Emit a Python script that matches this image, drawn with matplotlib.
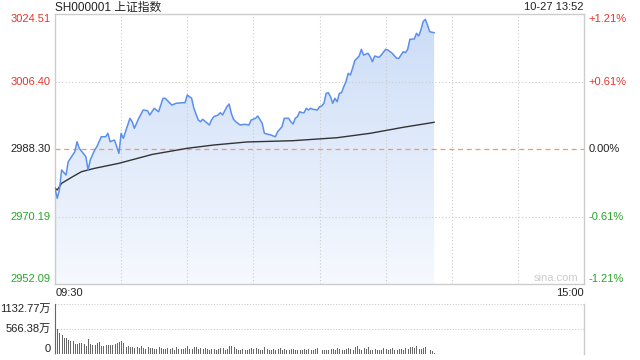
import numpy as np
import matplotlib
matplotlib.use('Agg')
import matplotlib.pyplot as plt
from matplotlib.colors import LinearSegmentedColormap
from matplotlib.transforms import blended_transform_factory

plt.rcParams['font.family'] = ['Liberation Sans', 'Noto Sans CJK SC', 'DejaVu Sans']

# minutes since 09:30 (trading minutes) and index level
price_t = [0, 1, 2, 3, 5, 6, 8, 9, 10, 11, 14, 15, 16, 18, 19, 21, 23, 24, 25, 27,
           28, 29, 30, 31, 32, 34, 35, 36, 38, 40, 42, 43, 45, 47, 49, 50, 53, 55, 58, 59,
           60, 62, 63, 65, 66, 67, 70, 71, 72, 74, 75, 76, 78, 79, 80, 81, 82, 84, 86, 88,
           89, 91, 92, 94, 95, 98, 99, 100, 101, 103, 104, 106, 107, 108, 109, 110, 111, 112, 113, 114,
           115, 116, 117, 119, 120, 121, 122, 123, 124, 125, 126, 127, 128, 129, 130, 131, 132, 133, 134, 135,
           136, 138, 139, 140, 142, 143, 144, 145, 147, 148, 150, 151, 153, 155, 156, 158, 159, 160, 161, 163,
           164, 165, 166, 167, 168, 169, 170, 172]
price = [2977.76, 2975.08, 2977.30, 2982.67, 2981.33, 2984.89, 2986.69, 2987.58, 2990.26, 2988.49,
         2986.23, 2982.67, 2985.35, 2988.03, 2988.92, 2991.60, 2991.60, 2992.51, 2990.26, 2990.71,
         2988.92, 2987.15, 2992.51, 2991.17, 2992.94, 2996.53, 2995.62, 2993.85, 2996.53, 2998.76,
         2998.57, 2997.42, 2999.22, 2998.30, 3001.90, 3001.90, 3000.10, 3000.56, 3000.72, 3000.72,
         3002.78, 3001.90, 2999.22, 2996.08, 2995.62, 2996.27, 2994.74, 2996.08, 2996.96, 2997.42,
         2998.04, 2997.42, 2999.65, 3000.37, 2997.88, 2996.27, 2995.62, 2994.74, 2994.93, 2994.74,
         2996.08, 2996.53, 2997.15, 2995.19, 2992.51, 2992.06, 2991.79, 2991.60, 2992.94, 2994.28,
         2996.53, 2996.53, 2995.62, 2995.01, 2996.53, 2996.96, 2998.30, 2998.04, 2998.04, 2999.22,
         2998.76, 2999.22, 2998.95, 2998.76, 2999.65, 2999.83, 3000.56, 3003.24, 3003.40, 3002.33,
         3000.56, 3001.90, 3000.99, 3003.24, 3003.40, 3005.01, 3006.35, 3008.60, 3008.15, 3009.95,
         3011.98, 3013.24, 3015.04, 3013.51, 3013.97, 3013.06, 3011.72, 3013.24, 3012.90, 3013.51,
         3015.04, 3014.85, 3013.97, 3012.63, 3012.63, 3014.40, 3014.13, 3015.04, 3017.72, 3017.80,
         3019.33, 3018.61, 3020.22, 3022.44, 3023.09, 3021.56, 3019.76, 3019.49]

avg_t = [0, 1, 3, 8, 12, 15, 18, 29, 44, 60, 72, 87, 108, 128, 143, 158, 172]
avg_price = [2977.76, 2977.30, 2979.10, 2980.87, 2982.21, 2982.67, 2983.12, 2984.46, 2986.83,
             2988.49, 2989.37, 2990.18, 2990.53, 2991.33, 2992.51, 2994.12, 2995.46]

# volume per minute (10k shares)
volume = [1132.77, 560, 470, 440, 370, 360, 320, 300, 290, 230,
          230, 240, 240, 230, 170, 340, 230, 210, 210, 240,
          280, 170, 180, 210, 200, 200, 210, 220, 250, 280,
          290, 250, 160, 170, 150, 160, 140, 150, 130, 170,
          140, 120, 150, 130, 140, 110, 120, 150, 130, 110,
          120, 140, 110, 130, 100, 150, 120, 110, 120, 130,
          190, 120, 110, 150, 160, 120, 130, 110, 140, 120,
          100, 110, 120, 90, 110, 130, 140, 100, 120, 170,
          180, 150, 110, 100, 100, 120, 90, 100, 110, 130,
          110, 140, 120, 100, 100, 150, 110, 90, 100, 120,
          90, 110, 130, 100, 110, 90, 100, 120, 110, 90,
          80, 100, 90, 110, 100, 120, 90, 100, 110, 130,
          190, 90, 80, 100, 90, 110, 120, 100, 130, 110,
          90, 80, 110, 140, 120, 100, 150, 170, 120, 100,
          130, 110, 150, 90, 100, 120, 80, 100, 90, 140,
          110, 90, 120, 130, 100, 90, 110, 120, 100, 140,
          110, 150, 160, 130, 170, 120, 110, 140, 160, 130,
          90, 60, 30]

prev_close = 2988.30
y_ticks = [3024.51, 3006.40, 2988.30, 2970.19, 2952.09]
pct_labels = ['+1.21%', '+0.61%', '0.00%', '-0.61%', '-1.21%']
vol_ticks = [1132.77, 566.38, 0]
vol_labels = ['1132.77万', '566.38万', '0']

RED = '#e8352b'
GREEN = '#27a827'
DARK = '#222222'
GRID = '#cccccc'

fig = plt.figure(figsize=(6.4, 3.6), dpi=100)
ax = fig.add_axes([55/640, 1-284/360, 529/640, 270/360])
axv = fig.add_axes([55/640, 1-354/360, 529/640, 50/360])

ylo, yhi = y_ticks[-1], y_ticks[0]
ax.set_xlim(0, 240)
ax.set_ylim(ylo, yhi)

# gradient fill under the price line
poly = ax.fill_between(price_t, price, ylo, color='none', lw=0)
cmap = LinearSegmentedColormap.from_list('fill', ['#f6f9fe', '#cbdcf7'])
grad = np.linspace(0, 1, 256).reshape(-1, 1)
im = ax.imshow(grad, cmap=cmap, extent=[0, 240, ylo, yhi], origin='lower',
               aspect='auto', zorder=1)
im.set_clip_path(poly.get_paths()[0], transform=ax.transData)

for v in [3006.40, 2970.19]:
    ax.axhline(v, color=GRID, ls=(0, (1, 2)), lw=0.8, zorder=2)
for m in range(30, 240, 30):
    ax.axvline(m, color=GRID, ls=(0, (1, 2)), lw=0.8, zorder=2)
ax.axhline(prev_close, color='#f29a66', ls=(0, (4, 3)), lw=0.9, zorder=2)

ax.plot(price_t, price, color='#5b8fee', lw=1.1, zorder=4)
ax.plot(avg_t, avg_price, color='#333333', lw=1.0, zorder=3)

ax.set_xticks([])
ax.set_yticks([])
for s in ax.spines.values():
    s.set_color(GRID)
    s.set_linewidth(1)

tr = blended_transform_factory(ax.transAxes, ax.transData)
left_colors = [RED, RED, DARK, GREEN, GREEN]
vas = ['top', 'center', 'center', 'center', 'bottom']
for v, lab, c, va in zip(y_ticks, pct_labels, left_colors, vas):
    ax.text(-0.008, v, f'{v:.2f}', transform=tr, ha='right', va=va, color=c, fontsize=8)
    ax.text(1.008, v, lab, transform=tr, ha='left', va=va, color=c, fontsize=8)

fig.text(55/640, 1-7.5/360, 'SH000001 上证指数', ha='left', va='center',
         fontsize=8.5, color=DARK)
fig.text(584/640, 1-7.5/360, '10-27 13:52', ha='right', va='center',
         fontsize=8, color=DARK)
ax.text(0.99, 0.005, 'sina.com', transform=ax.transAxes, ha='right', va='bottom',
        fontsize=8, color='#cccccc')
ax.text(0.002, -0.015, '09:30', transform=ax.transAxes, ha='left', va='top',
        fontsize=8, color=DARK)
ax.text(1.0, -0.015, '15:00', transform=ax.transAxes, ha='right', va='top',
        fontsize=8, color=DARK)

# volume panel
axv.set_xlim(0, 240)
axv.set_ylim(0, vol_ticks[0])
axv.bar(np.arange(len(volume)), volume, width=0.45, color='#666666', align='edge', zorder=3)
for v in vol_ticks:
    axv.axhline(v, color=GRID, ls=(0, (1, 1.5)), lw=0.8, zorder=1)
axv.set_xticks([])
axv.set_yticks([])
for k in ['top', 'bottom']:
    axv.spines[k].set_visible(False)
for k in ['left', 'right']:
    axv.spines[k].set_color(GRID)
    axv.spines[k].set_linewidth(1)
vvas = ['top', 'center', 'bottom']
for v, lab, va in zip(vol_ticks, vol_labels, vvas):
    axv.text(-0.008, v, lab, transform=blended_transform_factory(axv.transAxes, axv.transData),
             ha='right', va=va, fontsize=8, color=DARK)

fig.savefig('out.png', dpi=100)
